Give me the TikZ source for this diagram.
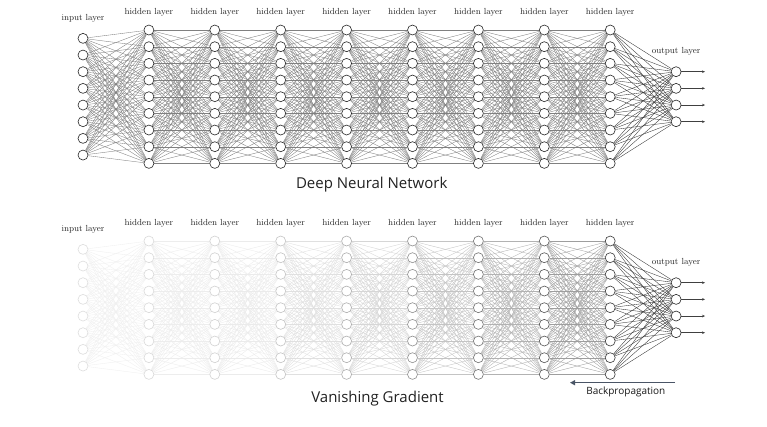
\documentclass[tikz,border=0pt]{standalone}
\usepackage{fontspec}
\newfontfamily\titlefont{Open Sans}
\usetikzlibrary{arrows.meta}
\pgfdeclarelayer{background}
\pgfsetlayers{background,main}
\definecolor{slate}{HTML}{4A5566}
\definecolor{titlegray}{HTML}{222222}
\tikzset{
  neuron/.style={circle,fill=white,line width=0.6pt,minimum size=10pt,inner sep=0pt},
  layerlabel/.style={font=\fontsize{8.8}{10}\selectfont,inner sep=0pt,text=black!85},
  edgeline/.style={line width=0.35pt},
  outarrow/.style={line width=0.5pt,draw=black!75,-{Stealth[length=3pt,width=2.6pt]}},
  titletext/.style={font=\titlefont\fontsize{15}{18}\selectfont,text=titlegray,inner sep=0pt},
  bptext/.style={font=\titlefont\fontsize{10}{12}\selectfont,text=black!90,inner sep=0pt},
  bparrow/.style={line width=1.5pt,draw=slate,-{Triangle[length=5pt,width=5pt]}}
}
% #1 prefix, #2 y offset, #3 fade flag
\newcommand{\drawnet}[3]{%
  \foreach \L in {0,...,9}{%
    \pgfmathsetmacro\xx{83+65.9*\L}%
    \pgfmathtruncatemacro\nn{\L==0 ? 8 : (\L==9 ? 4 : 9)}%
    \ifnum#3=1 \pgfmathsetmacro\nf{{0.16,0.18,0.22,0.28,0.38,0.52,0.66,0.78,0.92,1}[\L]}\else\def\nf{1}\fi
    \pgfmathtruncatemacro\nc{85*\nf}%
    \foreach \i in {1,...,\nn}{%
      \pgfmathsetmacro\yy{#2+96.7+(\i-(\nn+1)/2)*16.67}%
      \node[neuron,draw=black!\nc] (#1-\L-\i) at (\xx,\yy) {};
    }
    \ifnum\L=0
      \node[layerlabel] (#1-lab-\L) at (\xx,#2+18.3) {input layer};
    \else\ifnum\L=9
      \node[layerlabel] (#1-lab-\L) at (\xx,#2+51.7) {output layer};
    \else
      \node[layerlabel] (#1-lab-\L) at (\xx,#2+12.7) {hidden layer};
    \fi\fi
  }
  \foreach \L in {0,...,8}{%
    \pgfmathtruncatemacro\M{\L+1}%
    \pgfmathtruncatemacro\na{\L==0 ? 8 : 9}%
    \pgfmathtruncatemacro\nb{\M==9 ? 4 : 9}%
    \ifnum#3=1 \pgfmathsetmacro\ef{{0.13,0.15,0.18,0.24,0.34,0.48,0.62,0.78,1}[\L]}\else\def\ef{1}\fi
    \pgfmathtruncatemacro\ec{(\L==8 ? 80 : 50)*\ef}%
    \begin{pgfonlayer}{background}
    \foreach \i in {1,...,\na}{%
      \foreach \j in {1,...,\nb}{%
        \draw[edgeline,draw=black!\ec] (#1-\L-\i) -- (#1-\M-\j);
      }
    }
    \end{pgfonlayer}
  }
  \foreach \i in {1,...,4}{%
    \pgfmathsetmacro\yy{#2+96.7+(\i-2.5)*16.67}%
    \coordinate (#1-out-\i) at (705,\yy);
    \draw[outarrow] (#1-9-\i) -- (#1-out-\i);
  }
}
\begin{document}
\begin{tikzpicture}[x=1pt,y=-1pt]
\useasboundingbox (0,0) rectangle (767,426);
\begin{pgfonlayer}{background}
\fill[white] (0,0) rectangle (767,426);
\end{pgfonlayer}
\drawnet{t}{0}{0}
\drawnet{b}{211}{1}
\node[titletext] (title1) at (371.7,184.7) {Deep Neural Network};
\node[titletext] (title2) at (377.5,398.8) {Vanishing Gradient};
\coordinate (bp-start) at (675,382.7);
\coordinate (bp-end) at (570,382.7);
\draw[bparrow] (bp-start) -- (bp-end);
\node[bptext] (bp-label) at (625.8,391.7) {Backpropagation};
\end{tikzpicture}
\end{document}
